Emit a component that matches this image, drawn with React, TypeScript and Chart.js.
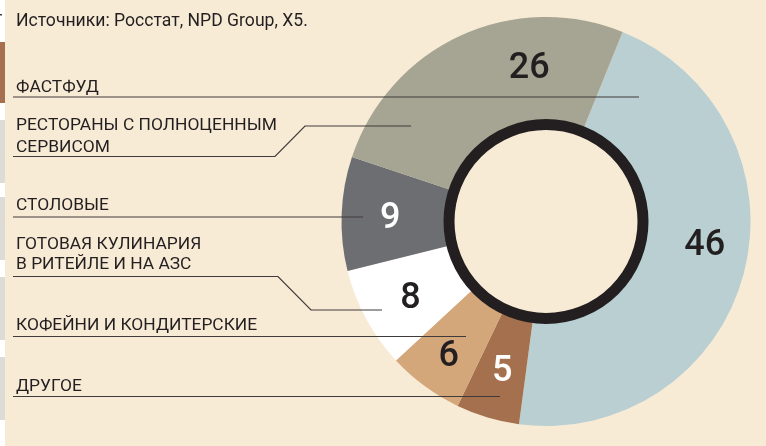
import React, { useEffect, useRef } from "react";
import { Chart, ArcElement, DoughnutController } from "chart.js";

Chart.register(ArcElement, DoughnutController);

// ---- data (in clockwise drawing order, starting at the rotation angle) ----
const categories = [
  "ФАСТФУД",
  "ДРУГОЕ",
  "КОФЕЙНИ И КОНДИТЕРСКИЕ",
  "ГОТОВАЯ КУЛИНАРИЯ В РИТЕЙЛЕ И НА АЗС",
  "СТОЛОВЫЕ",
  "РЕСТОРАНЫ С ПОЛНОЦЕННЫМ СЕРВИСОМ",
];
const shares = [46, 5, 6, 8, 9, 26];
const sliceColors = ["#b9cfd2", "#a5704e", "#d4a77b", "#ffffff", "#6d6e72", "#a6a593"];
const valueColors = ["#231f20", "#ffffff", "#231f20", "#231f20", "#ffffff", "#231f20"];
const sourceText = "Источники: Росстат, NPD Group, X5.";

// ---- annotation layout (not data) ----
const BG = "#f8ebd6";
const INK = "#231f20";
// value label placement: fraction along the arc and radius
const valueFrac = [0.456, 0.5, 0.5, 0.5, 0.5, 0.7];
const valueRadius = [160, 153, 164, 154, 156, 157.5];

type Legend = { idx: number; lines: string[]; baselines: number[]; path: [number, number][] };
const legendLayout: Legend[] = [
  { idx: 0, lines: ["ФАСТФУД"], baselines: [92], path: [[13, 97], [639, 97]] },
  {
    idx: 5,
    lines: ["РЕСТОРАНЫ С ПОЛНОЦЕННЫМ", "СЕРВИСОМ"],
    baselines: [130, 152.3],
    path: [[13, 156.5], [275, 156.5], [305, 126], [411, 126]],
  },
  { idx: 4, lines: ["СТОЛОВЫЕ"], baselines: [210], path: [[13, 217], [363, 217]] },
  {
    idx: 3,
    lines: ["ГОТОВАЯ КУЛИНАРИЯ", "В РИТЕЙЛЕ И НА АЗС"],
    baselines: [249, 269],
    path: [[13, 276.5], [278, 276.5], [311, 310], [382, 310]],
  },
  { idx: 2, lines: ["КОФЕЙНИ И КОНДИТЕРСКИЕ"], baselines: [330], path: [[13, 336.5], [466, 336.5]] },
  { idx: 1, lines: ["ДРУГОЕ"], baselines: [390.7], path: [[13, 396.5], [500, 396.5]] },
];

const bgPlugin = {
  id: "bgPlugin",
  beforeDraw(chart: any) {
    const ctx = chart.ctx as CanvasRenderingContext2D;
    const w = chart.width;
    const h = chart.height;
    ctx.save();
    ctx.fillStyle = "#ffffff";
    ctx.fillRect(0, 0, 5, h);
    ctx.fillStyle = BG;
    ctx.fillRect(5, 0, w - 5, h);
    ctx.fillStyle = "#a66f4e";
    ctx.fillRect(0, 42, 5, 61);
    ctx.fillStyle = "#dcdbd5";
    [[120, 63], [197, 63], [277, 63], [357, 63]].forEach(([y, hh]) => ctx.fillRect(0, y, 5, hh));
    ctx.fillStyle = "#444";
    ctx.fillRect(0, 14, 2, 1.5);
    ctx.restore();
  },
};

const annotatePlugin = {
  id: "annotatePlugin",
  afterDatasetsDraw(chart: any) {
    const ctx = chart.ctx as CanvasRenderingContext2D;
    const meta = chart.getDatasetMeta(0);
    const arcs = meta.data;
    if (!arcs.length) return;
    const first = arcs[0];
    const cx = first.x;
    const cy = first.y;
    const inner = first.innerRadius;
    ctx.save();

    // legend text
    ctx.fillStyle = INK;
    ctx.textBaseline = "alphabetic";
    ctx.textAlign = "left";
    ctx.font = "17.6px Roboto";
    ctx.fillText(sourceText, 16, 26);
    ctx.font = "17.4px Roboto";
    legendLayout.forEach((l) => {
      l.lines.forEach((t, i) => ctx.fillText(t, 16, l.baselines[i]));
    });

    // leader lines
    ctx.strokeStyle = "#403b3b";
    ctx.lineWidth = 1.2;
    legendLayout.forEach((l) => {
      ctx.beginPath();
      l.path.forEach(([x, y], i) => (i === 0 ? ctx.moveTo(x, y) : ctx.lineTo(x, y)));
      ctx.stroke();
    });

    // black ring
    ctx.beginPath();
    ctx.arc(cx, cy, inner - 3, 0, Math.PI * 2);
    ctx.lineWidth = 11;
    ctx.strokeStyle = INK;
    ctx.stroke();

    // value labels
    ctx.font = "500 36px Roboto";
    ctx.textAlign = "center";
    ctx.textBaseline = "alphabetic";
    arcs.forEach((arc: any, i: number) => {
      const a = arc.startAngle + (arc.endAngle - arc.startAngle) * valueFrac[i];
      const r = valueRadius[i];
      const x = cx + r * Math.cos(a);
      const y = cy + r * Math.sin(a);
      ctx.fillStyle = valueColors[i];
      ctx.fillText(String(shares[i]), x, y + 12.8);
    });
    ctx.restore();
  },
};

export default function App() {
  const ref = useRef<HTMLCanvasElement | null>(null);
  useEffect(() => {
    document.body.style.margin = "0";
    const canvas = ref.current;
    if (!canvas) return;
    const chart = new Chart(canvas, {
      type: "doughnut",
      data: {
        labels: categories,
        datasets: [
          {
            data: shares,
            backgroundColor: sliceColors,
            borderWidth: 0,
            hoverOffset: 0,
            offset: 0,
          },
        ],
      },
      options: {
        responsive: false,
        animation: false,
        devicePixelRatio: 1,
        events: [],
        rotation: 22,
        cutout: 100,
        layout: { padding: { left: 341.5, right: 15.5, top: 17, bottom: 20 } },
        plugins: { legend: { display: false }, tooltip: { enabled: false } },
      } as any,
      plugins: [bgPlugin, annotatePlugin],
    });
    return () => chart.destroy();
  }, []);
  return (
    <div style={{ position: "absolute", left: 0, top: 0, width: 766, height: 446 }}>
      <canvas ref={ref} width={766} height={446} style={{ width: 766, height: 446, display: "block" }} />
    </div>
  );
}
